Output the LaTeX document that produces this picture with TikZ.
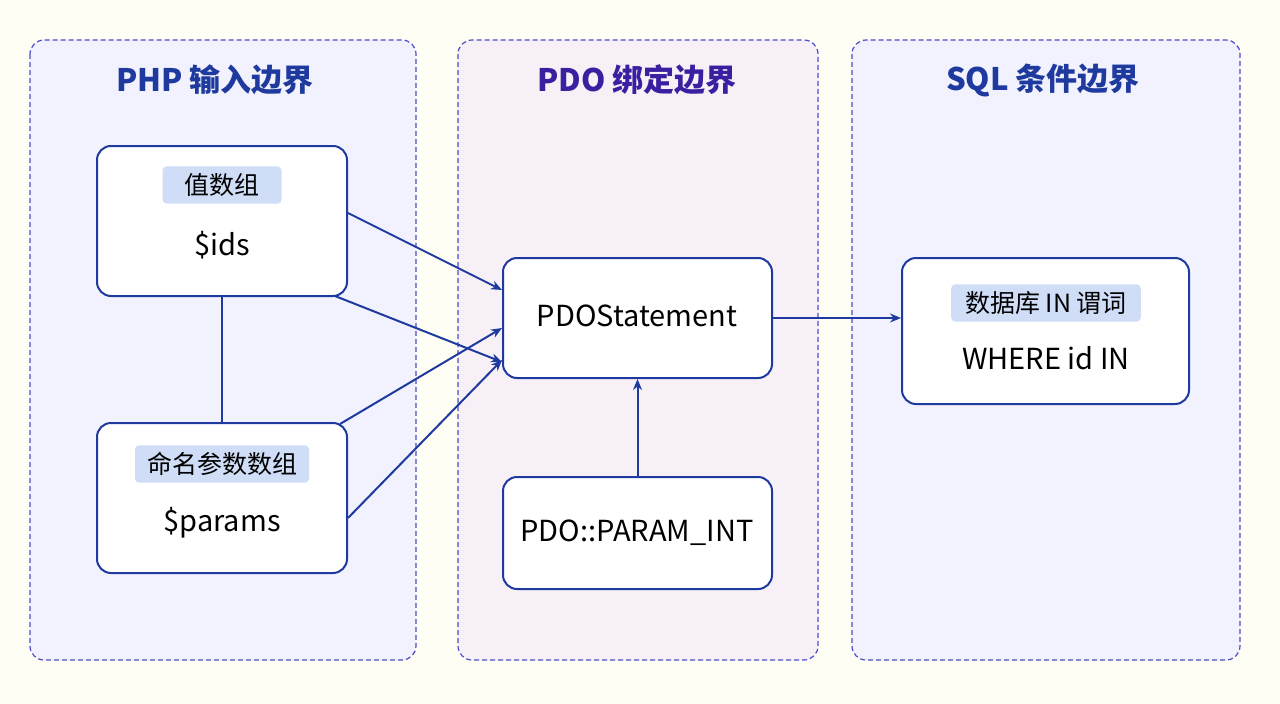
\documentclass[tikz,border=0pt]{standalone}
\usepackage{fontspec}
\setmainfont{Noto Sans CJK SC}
\usetikzlibrary{arrows.meta}
\definecolor{dblue}{HTML}{1F3A9E}
\definecolor{lblue}{HTML}{CFDDF6}
\definecolor{purp}{HTML}{3A1FA0}
\tikzset{
 panel/.style={draw=blue!70!black!70,dashed,dash pattern=on 5pt off 3pt,rounded corners=14pt,line width=1.2pt},
 box/.style={draw=dblue,fill=white,rounded corners=14pt,line width=2pt},
 tag/.style={fill=lblue,rounded corners=4pt,inner xsep=22pt,inner ysep=7pt,font=\fontsize{25}{28}\selectfont},
 txt/.style={font=\fontsize{29}{32}\selectfont},
 ttl/.style={font=\fontsize{31}{36}\selectfont\bfseries},
 con/.style={draw=dblue,line width=2pt,-{Stealth[length=11pt,width=9pt]}}
}
\begin{document}
\begin{tikzpicture}[x=1pt,y=-1pt]
\fill[white!96!yellow] (0,0) rectangle (1280,704);
\useasboundingbox (0,0) rectangle (1280,704);
\filldraw[panel,fill=blue!5] (30,40) rectangle (416,660);
\filldraw[panel,fill=violet!6] (458,40) rectangle (818,660);
\filldraw[panel,fill=blue!5] (852,40) rectangle (1240,660);
\node[ttl,text=dblue] (t1) at (215,80) {PHP 输入边界};
\node[ttl,text=purp] (t2) at (637,80) {PDO 绑定边界};
\node[ttl,text=dblue] (t3) at (1043,80) {SQL 条件边界};
\node[box,minimum width=250pt,minimum height=150pt] (ids) at (222,221) {};
\node[box,minimum width=250pt,minimum height=150pt] (par) at (222,498) {};
\node[box,minimum width=269pt,minimum height=120pt] (stm) at (637.5,318) {};
\node[box,minimum width=269pt,minimum height=112pt] (pint) at (637.5,533) {};
\node[box,minimum width=287pt,minimum height=146pt] (wh) at (1045.5,331) {};
\node[tag] (g1) at (222,185) {值数组};
\node[txt] (l1) at (222,245) {\$ids};
\node[tag,inner xsep=12pt] (g2) at (222,464) {命名参数数组};
\node[txt] (l2) at (222,523) {\$params};
\node[txt] (l3) at (637,316) {PDOStatement};
\node[txt] (l4) at (637,533) {PDO::PARAM\_INT};
\node[tag,inner xsep=14pt] (g3) at (1046,303) {数据库 IN 谓词};
\node[txt] (l5) at (1046,358) {WHERE id IN};
\draw[dblue,line width=2pt] (ids.south) ++(0,0) coordinate (a) -- (a |- par.north);
\draw[con] (ids.east |- 0,213) -- (stm.west |- 0,290);
\draw[con] (335,296) -- (stm.west |- 0,362);
\draw[con] (340,424) -- (stm.west |- 0,328);
\draw[con] (par.east |- 0,518) -- (stm.west |- 0,360);
\draw[con] (pint.north) -- (stm.south);
\draw[con] (stm.east) -- (wh.west |- stm.east);
\end{tikzpicture}
\end{document}
